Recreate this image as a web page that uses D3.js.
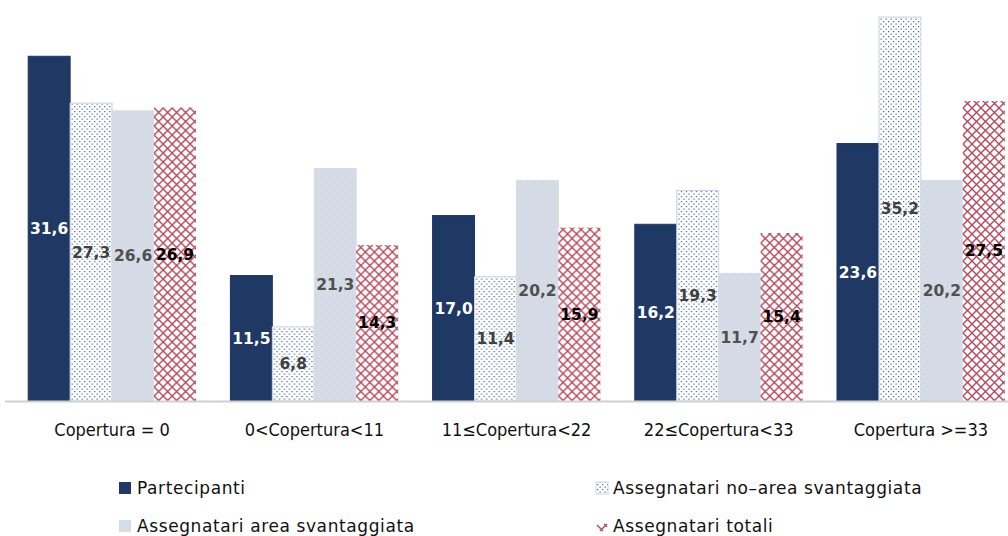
<!DOCTYPE html>
<html>
<head>
<meta charset="utf-8">
<script src="https://cdn.jsdelivr.net/npm/d3@7"></script>
<style>
  body { margin: 0; background: #fff; }
  svg { display: block; }
</style>
</head>
<body>
<div id="chart"></div>
<script>
const categories = ["Copertura = 0", "0<Copertura<11", "11≤Copertura<22", "22≤Copertura<33", "Copertura >=33"];
const seriesNames = ["Partecipanti", "Assegnatari no–area svantaggiata", "Assegnatari area svantaggiata", "Assegnatari totali"];
const partecipanti = [31.6, 11.5, 17.0, 16.2, 23.6];
const noArea = [27.3, 6.8, 11.4, 19.3, 35.2];
const areaSvant = [26.6, 21.3, 20.2, 11.7, 20.2];
const totali = [26.9, 14.3, 15.9, 15.4, 27.5];

const width = 1008, height = 536;
const baseline = 401;

const svg = d3.select("#chart").append("svg")
  .attr("width", width)
  .attr("height", height);

const defs = svg.append("defs");

// dotted pattern (no-area)
const pDots = defs.append("pattern")
  .attr("id", "dots").attr("patternUnits", "userSpaceOnUse")
  .attr("width", 5).attr("height", 5);
pDots.append("rect").attr("width", 5).attr("height", 5).attr("fill", "#fff");
pDots.append("rect").attr("x", 1).attr("y", 1).attr("width", 1.2).attr("height", 1.2).attr("fill", "#3d5f93");
pDots.append("rect").attr("x", 3.5).attr("y", 3.5).attr("width", 1.2).attr("height", 1.2).attr("fill", "#3d5f93");

// faint dots on light grey (area)
const pGrey = defs.append("pattern")
  .attr("id", "greyDots").attr("patternUnits", "userSpaceOnUse")
  .attr("width", 8).attr("height", 8);
pGrey.append("rect").attr("width", 8).attr("height", 8).attr("fill", "#d6dce5");
pGrey.append("rect").attr("x", 2).attr("y", 2).attr("width", 1).attr("height", 1).attr("fill", "#c3cbd8");
pGrey.append("rect").attr("x", 6).attr("y", 6).attr("width", 1).attr("height", 1).attr("fill", "#c3cbd8");

// diagonal crosshatch (totali)
const pCross = defs.append("pattern")
  .attr("id", "cross").attr("patternUnits", "userSpaceOnUse")
  .attr("width", 9).attr("height", 9);
pCross.append("rect").attr("width", 9).attr("height", 9).attr("fill", "#fff");
pCross.append("path").attr("d", "M0,0L9,9M9,0L0,9")
  .attr("stroke", "#b8475c").attr("stroke-width", 1.4).attr("fill", "none");

const fills = ["#1f3864", "url(#dots)", "url(#greyDots)", "url(#cross)"];
const strokes = ["#1f3864", "#c9d6ea", "#d6dce5", "none"];
const labelColors = ["#ffffff", "#404040", "#505050", "#000000"];

const data = [partecipanti, noArea, areaSvant, totali];

const x0 = d3.scaleBand().domain(categories).range([11, 1022])
  .paddingInner(0.17).paddingOuter(0.085);
const x1 = d3.scaleBand().domain(d3.range(4)).range([0, x0.bandwidth()]);
const y = d3.scaleLinear().domain([0, 35.2]).range([baseline, 17]);

const groups = svg.selectAll(".grp").data(categories).join("g")
  .attr("transform", d => `translate(${x0(d)},0)`);

groups.each(function(cat, ci) {
  const g = d3.select(this);
  data.forEach((series, si) => {
    const v = series[ci];
    g.append("rect")
      .attr("x", x1(si))
      .attr("y", y(v))
      .attr("width", x1.bandwidth())
      .attr("height", baseline - y(v))
      .attr("fill", fills[si])
      .attr("stroke", strokes[si])
      .attr("stroke-width", 1);
  });
  data.forEach((series, si) => {
    const v = series[ci];
    g.append("text")
      .attr("x", x1(si) + x1.bandwidth() / 2)
      .attr("y", (y(v) + baseline) / 2)
      .attr("dy", "0.35em")
      .attr("text-anchor", "middle")
      .attr("font-family", "DejaVu Sans")
      .attr("font-weight", "bold")
      .attr("font-size", 15.5)
      .attr("fill", labelColors[si])
      .text(v.toFixed(1).replace(".", ","));
  });
});

// axis
const axis = svg.append("g").attr("transform", `translate(0,${baseline})`)
  .call(d3.axisBottom(x0).tickSize(0).tickPadding(22));
axis.select(".domain").attr("d", "M5,0.5H1008").attr("stroke", "#d0d0d0").attr("stroke-width", 2);
axis.selectAll("text")
  .attr("font-family", "DejaVu Sans Condensed, DejaVu Sans")
  .attr("font-size", 18)
  .attr("fill", "#111");

// legend
const legendPos = [[119, 488], [596, 488], [119, 526], [596, 526]];
const legendFills = ["#1f3864", "url(#dots)", "#d6dce5", "none"];
const legend = svg.selectAll(".leg").data(seriesNames).join("g")
  .attr("transform", (d, i) => `translate(${legendPos[i][0]},${legendPos[i][1]})`);
legend.each(function(name, i) {
  const g = d3.select(this);
  if (i === 3) {
    g.append("path").attr("d", "M1,-1L7,5M4,5L11,-2M8,-2L11,1")
      .attr("stroke", "#b8475c").attr("stroke-width", 1.4).attr("fill", "none");
  } else {
    g.append("rect").attr("x", 0).attr("y", -6).attr("width", 12).attr("height", 12)
      .attr("fill", legendFills[i])
      .attr("stroke", i === 1 ? "#c9d6ea" : "none");
  }
  g.append("text")
    .attr("x", i % 2 === 0 ? 18 : 17)
    .attr("y", 0)
    .attr("dy", "0.35em")
    .attr("font-family", "DejaVu Sans")
    .attr("font-size", 17)
    .attr("letter-spacing", 0.6)
    .attr("fill", "#111")
    .text(name);
});
</script>
</body>
</html>
